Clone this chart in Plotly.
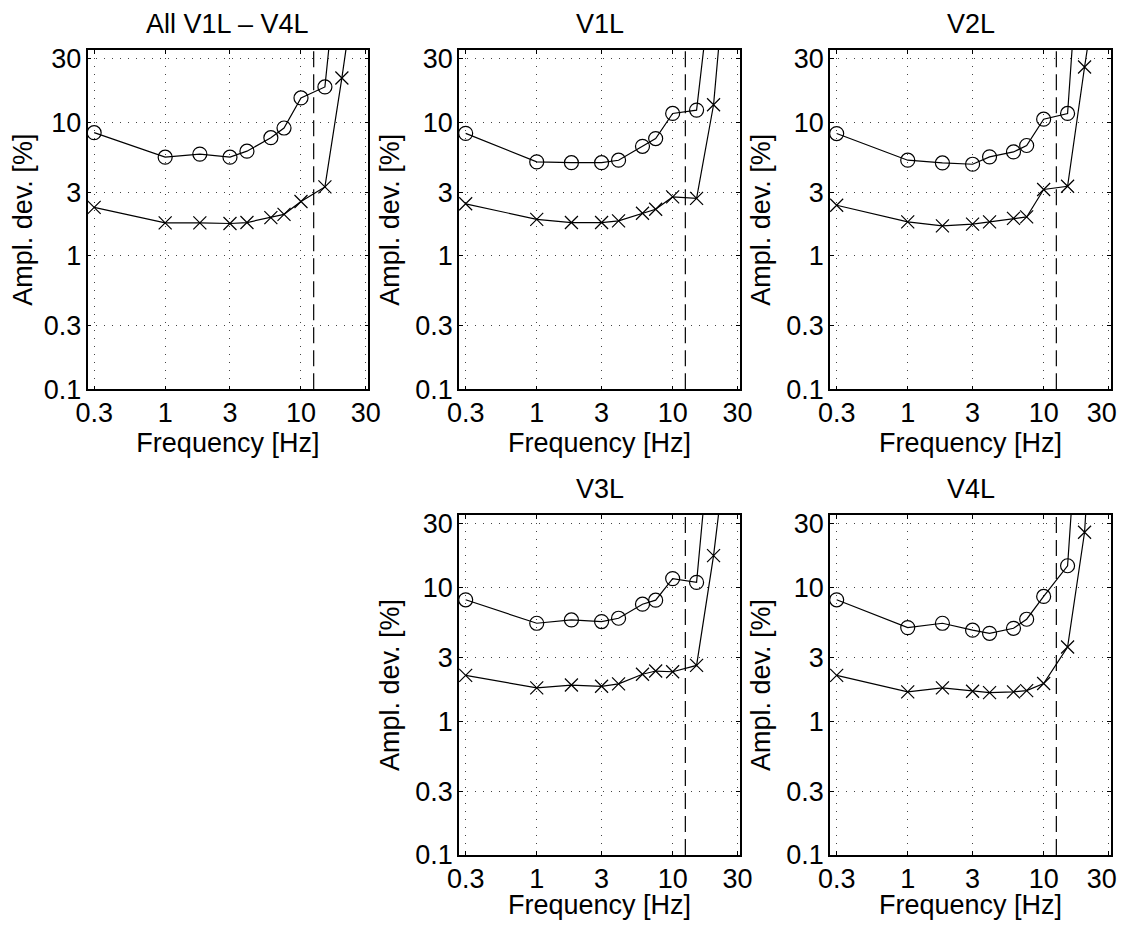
import math
import plotly.graph_objects as go

# ---------------- data ----------------
FREQ = [0.3, 1, 1.8, 3, 4, 6, 7.5, 10, 15, 20, 25]          # Hz
CUTOFF_HZ = 12.4

TITLES = ["All V1L \u2013 V4L", "V1L", "V2L", "V3L", "V4L"]

ALL_CIRC = [8.4, 5.5, 5.8, 5.5, 6.1, 7.7, 9.1, 15.3, 18.5, 500, 3000]
ALL_CROSS = [2.31, 1.77, 1.77, 1.75, 1.78, 1.94, 2.05, 2.56, 3.29, 21.6, 105]

V1L_CIRC = [8.3, 5.07, 5.0, 5.0, 5.22, 6.64, 7.59, 11.7, 12.4, 155, 1500]
V1L_CROSS = [2.46, 1.88, 1.78, 1.78, 1.83, 2.09, 2.24, 2.77, 2.70, 13.6, 174]

V2L_CIRC = [8.27, 5.22, 4.98, 4.87, 5.53, 6.02, 6.73, 10.6, 11.7, 2000, 20000]
V2L_CROSS = [2.40, 1.80, 1.68, 1.73, 1.80, 1.91, 1.96, 3.15, 3.33, 26.1, 117]

V3L_CIRC = [8.12, 5.42, 5.74, 5.58, 5.91, 7.53, 8.07, 11.7, 10.96, 450, 3000]
V3L_CROSS = [2.21, 1.78, 1.87, 1.83, 1.91, 2.25, 2.38, 2.35, 2.62, 17.4, 113]

V4L_CIRC = [8.12, 5.03, 5.42, 4.81, 4.56, 4.97, 5.81, 8.6, 14.6, 5000, 30000]
V4L_CROSS = [2.21, 1.66, 1.78, 1.68, 1.64, 1.66, 1.70, 1.92, 3.60, 26.0, 1000]

X_TICKS = [0.3, 1, 3, 10, 30]
X_TICKTEXT = ["0.3", "1", "3", "10", "30"]
Y_TICKS = [0.1, 0.3, 1, 3, 10, 30]
Y_TICKTEXT = ["0.1", "0.3", "1", "3", "10", "30"]
X_RANGE = [0.268, 31.3]
Y_RANGE = [0.1, 35]

# ---------------- layout geometry (pixels) ----------------
OFF = 8                      # page body margin (figure origin on screen)
W, H = 1126 - OFF, 928 - 2 * OFF
# (left, right, top, bottom) of each axes box in screen pixels
BOXES = [
    (87.5, 368.3, 50, 389.3),
    (459, 740, 50, 389.3),
    (830, 1111, 50, 389.3),
    (459, 740, 515, 855),
    (830, 1111, 515, 855),
]
RIGHT_COLUMN = {3, 5}

FONT = "Liberation Sans, Arial, Helvetica, sans-serif"
FS = 27

series = [
    (ALL_CIRC, ALL_CROSS),
    (V1L_CIRC, V1L_CROSS),
    (V2L_CIRC, V2L_CROSS),
    (V3L_CIRC, V3L_CROSS),
    (V4L_CIRC, V4L_CROSS),
]

fig = go.Figure()
layout = {}
annotations = []

for i, ((circ, cross), title, box) in enumerate(zip(series, TITLES, BOXES), start=1):
    xa = "x" if i == 1 else f"x{i}"
    ya = "y" if i == 1 else f"y{i}"
    l, r, t, b = [v - OFF for v in box]
    xdom = [l / W, r / W]
    ydom = [1 - b / H, 1 - t / H]

    # cutoff dashed line
    fig.add_trace(go.Scatter(
        x=[CUTOFF_HZ, CUTOFF_HZ], y=Y_RANGE, mode="lines",
        line=dict(color="black", width=1.2, dash="16px,7px"),
        xaxis=xa, yaxis=ya, showlegend=False, hoverinfo="skip"))
    fig.add_trace(go.Scatter(
        x=FREQ, y=circ, mode="lines+markers",
        line=dict(color="black", width=1.2),
        marker=dict(symbol="circle-open", size=14, color="black",
                    line=dict(width=1.2, color="black")),
        xaxis=xa, yaxis=ya, showlegend=False))
    fig.add_trace(go.Scatter(
        x=FREQ, y=cross, mode="lines+markers",
        line=dict(color="black", width=1.2),
        marker=dict(symbol="x-thin-open", size=13, color="black",
                    line=dict(width=1.2, color="black")),
        xaxis=xa, yaxis=ya, showlegend=False))

    common = dict(
        type="log", showline=True, linecolor="black", linewidth=1.5,
        mirror="ticks", ticks="inside", ticklen=4, tickwidth=1,
        tickcolor="black", showgrid=True, gridcolor="#444",
        gridwidth=1, griddash="1px,7px", zeroline=False,
        tickfont=dict(family=FONT, size=FS, color="black"),
        automargin=False, tickmode="array", ticklabelstandoff=-1,
        ticklabeloverflow="allow",
    )
    xtext = list(X_TICKTEXT)
    if i in RIGHT_COLUMN:
        # keep the last label inside the page edge
        xtext[-1] = xtext[-1] + "\u2002"
    xname = "xaxis" if i == 1 else f"xaxis{i}"
    yname = "yaxis" if i == 1 else f"yaxis{i}"
    layout[xname] = dict(
        common, domain=xdom, anchor=ya,
        range=[math.log10(X_RANGE[0]), math.log10(X_RANGE[1])],
        tickvals=X_TICKS, ticktext=xtext,
        title=dict(text="Frequency [Hz]", standoff=2,
                   font=dict(family=FONT, size=FS, color="black")),
    )
    layout[yname] = dict(
        common, domain=ydom, anchor=xa,
        range=[math.log10(Y_RANGE[0]), math.log10(Y_RANGE[1])],
        tickvals=Y_TICKS, ticktext=Y_TICKTEXT,
        title=dict(text="Ampl. dev. [%]", standoff=8,
                   font=dict(family=FONT, size=FS, color="black")),
    )
    annotations.append(dict(
        text=title, showarrow=False, xref="paper", yref="paper",
        x=(l + r) / 2 / W, y=1 - (t - 26) / H, xanchor="center",
        yanchor="middle", font=dict(family=FONT, size=FS, color="black")))

fig.update_layout(
    width=W, height=H, margin=dict(l=0, r=0, t=0, b=0),
    paper_bgcolor="white", plot_bgcolor="white",
    annotations=annotations, showlegend=False,
    font=dict(family=FONT, size=FS, color="black"),
    **layout,
)

fig.write_html("out.html")
